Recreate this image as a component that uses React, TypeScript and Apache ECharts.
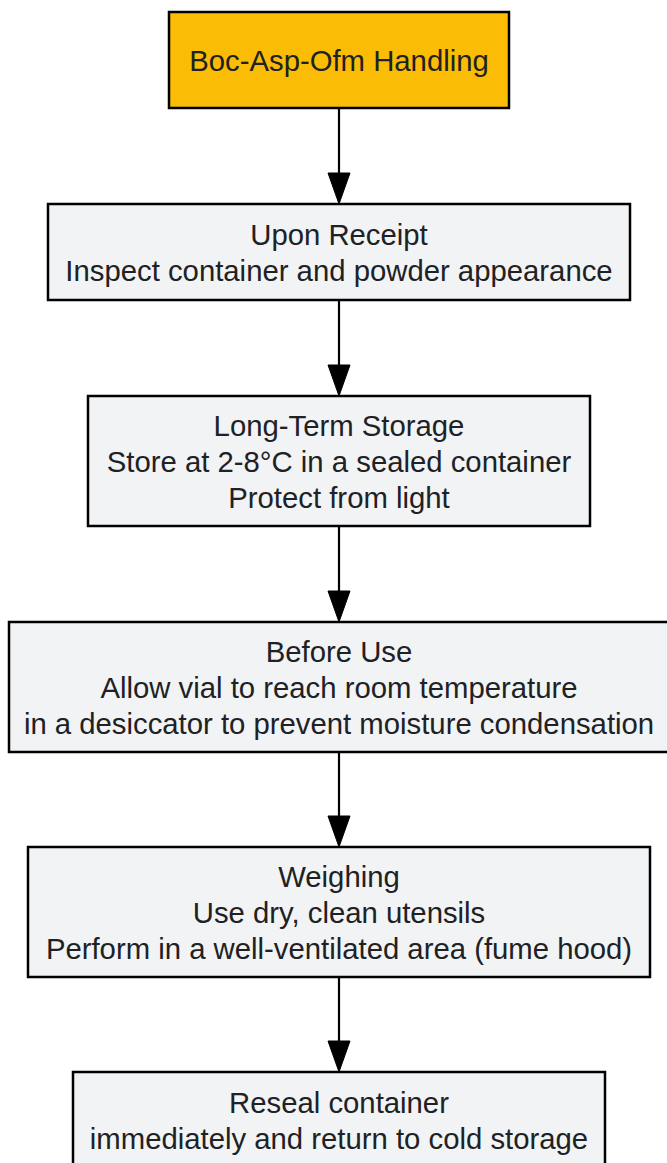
import React, { useEffect, useRef } from "react";
import * as echarts from "echarts";

// Node texts (flow order)
const nodeLines: string[][] = [
  ["Boc-Asp-Ofm Handling"],
  ["Upon Receipt", "Inspect container and powder appearance"],
  ["Long-Term Storage", "Store at 2-8°C in a sealed container", "Protect from light"],
  ["Before Use", "Allow vial to reach room temperature", "in a desiccator to prevent moisture condensation"],
  ["Weighing", "Use dry, clean utensils", "Perform in a well-ventilated area (fume hood)"],
  ["Reseal container", "immediately and return to cold storage"],
];
const nodeKinds: string[] = ["start", "step", "step", "step", "step", "step"];

// Layout (positions / sizes)
const layoutX = [169, 48, 88, 9, 28, 73];
const layoutY = [12, 204, 396, 622, 847, 1072];
const layoutW = [340, 582, 502, 660, 622, 532];
const layoutH = [96, 96, 130, 130, 130, 96];

const FONT = '29.3px "Liberation Sans", Arial, sans-serif';
const LINE_H = 36;
const CX = 339;

export default function App() {
  const ref = useRef<HTMLDivElement>(null);
  useEffect(() => {
    if (!ref.current) return;
    const chart = echarts.init(ref.current, undefined, { renderer: "svg" });
    const elements: any[] = [];
    nodeLines.forEach((lines, i) => {
      const x = layoutX[i], y = layoutY[i], w = layoutW[i], h = layoutH[i];
      elements.push({
        type: "rect",
        shape: { x, y, width: w, height: h },
        style: {
          fill: nodeKinds[i] === "start" ? "#FBBC05" : "#F1F3F4",
          stroke: "#000000",
          lineWidth: 2.5,
        },
      });
      const cy = y + h / 2;
      lines.forEach((t, j) => {
        elements.push({
          type: "text",
          style: {
            text: t,
            x: CX,
            y: cy + (j - (lines.length - 1) / 2) * LINE_H,
            font: FONT,
            fill: "#202124",
            align: "center",
            verticalAlign: "middle",
          },
        });
      });
      if (i < nodeLines.length - 1) {
        const y0 = y + h;
        const tip = layoutY[i + 1];
        elements.push({
          type: "line",
          shape: { x1: CX, y1: y0, x2: CX, y2: tip - 30 },
          style: { stroke: "#000000", lineWidth: 2.2 },
        });
        elements.push({
          type: "polygon",
          shape: { points: [[CX - 11, tip - 31], [CX + 11, tip - 31], [CX, tip]] },
          style: { fill: "#000000", stroke: "#000000", lineWidth: 1 },
        });
      }
    });
    chart.setOption({
      animation: false,
      backgroundColor: "#ffffff",
      graphic: { elements },
    });
    return () => chart.dispose();
  }, []);
  return (
    <div
      ref={ref}
      style={{ position: "absolute", left: 0, top: 0, width: 667, height: 1163 }}
    />
  );
}
